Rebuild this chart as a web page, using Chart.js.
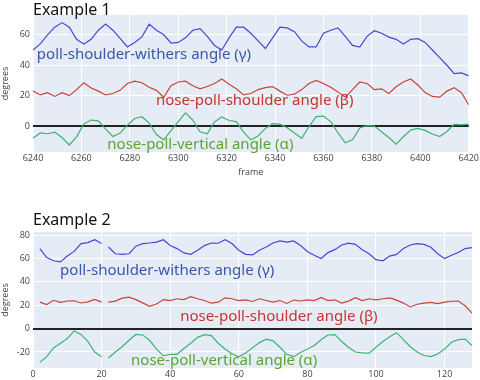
<!DOCTYPE html>
<html lang="en">
<head>
<meta charset="UTF-8">
<title>Angle examples</title>
<script src="https://cdn.jsdelivr.net/npm/chart.js"></script>
<style>
  body { margin: 0; background: #fff; font-family: "Noto Sans", sans-serif; }
  #wrap { position: relative; width: 480px; height: 380px; overflow: hidden; }
  .panel { position: absolute; left: 0; width: 480px; }
  .title { position: absolute; left: 33px; font-size: 16px; color: #111; line-height: 20px; }
</style>
</head>
<body>
<div id="wrap">
  <div class="panel" style="top:0;height:180px"><canvas id="chart1"></canvas></div>
  <div class="panel" style="top:190px;height:190px"><canvas id="chart2"></canvas></div>
  <div class="title" style="top:-1px">Example 1</div>
  <div class="title" style="top:209px">Example 2</div>
</div>
<script>
// ---- Example 1 data (frame, degrees) ----
const frames1 = [6240,6243,6246,6249,6252,6255,6258,6261,6264,6267,6270,6273,6276,6279,6282,6285,6288,6291,6294,6297,
  6300,6303,6306,6309,6312,6315,6318,6321,6324,6327,6330,6333,6336,6339,6342,6345,6348,6351,6354,6357,
  6360,6363,6366,6369,6372,6375,6378,6381,6384,6387,6390,6393,6396,6399,6402,6405,6408,6411,6414,6417,6420];
const gamma1 = [50,54,60,65,68,65,57,54,57,63,67,63,57.6,52,55,58.6,67,63,60,54.6,
  55,58,63,64,59,53,50,58,65,65,61,56,51,58,65,64.5,62,56,52,52,
  61,63,64.5,59,53,52,59,62.7,61,58.5,57,54,57,57.5,55,50,45,40,34.5,35,33];
const beta1 = [23,20.5,22,19.5,22,20,24,28.5,25,23,20.5,21.4,23.5,28,29.5,28.5,25.5,23.5,19,26.5,
  29,29.5,26.5,24.5,26,28,31,27.5,24.5,20.5,21.4,24,25.3,26,23,20.3,21,24,28,30,
  28,25.5,22.5,19,24,29,28,24,24.5,21.5,25.8,29,31,27,22,19.5,19,23,25.3,22,14];
const alpha1 = [-8,-4.5,-5,-4,-7.5,-12.4,-7,1.5,4,3.5,-2,-6.8,-4.6,0.6,5,6.2,2,-5.5,-9,-3,
  3,8.7,4,-3.7,-5,2.8,6,3.7,3,-4,-9,-6.5,-1.5,1.7,1.3,-1,-4.5,-8,-0.4,6.2,
  6.6,3,-4.5,-11,-9,-1.2,0.3,0,-3.7,-7.5,-11.8,-7,-2.6,-1.5,-2.8,-5.2,-6.8,-3.5,1.2,0.8,1.3];

// ---- Example 2 data (x, degrees); null at 21 = gap ----
const frames2 = [2,4,6,8,10,12,14,16,18,20,21,22,24,26,28,30,32,34,36,38,40,42,44,46,48,50,52,54,56,58,
  60,62,64,66,68,70,72,74,76,78,80,82,84,86,88,90,92,94,96,98,100,102,104,106,108,110,112,114,116,118,
  120,122,124,126,128];
const gamma2 = [68.4,60.7,58,57,62,66,72.7,73.5,76,72.7,null,69.8,64,63.5,64,70.5,72.7,73.2,74,76,71,68.4,64.7,63.5,67,71,73.2,73,76,72.7,
  67,63.5,63,67,69.8,73.2,75,74,75,71,66,62.7,60,65,67.5,71.5,73,72,67.5,64,59,58,62,63.5,68.5,71.5,72.7,72,69.5,64,
  59.8,62.7,65,68.4,69.2];
const beta2 = [22.6,20.6,24.2,22.4,23.6,23.8,21.9,22.8,25,22.6,null,22.6,23.5,26,26.9,24.8,22,19,21,24.8,24,25.5,24.8,27.3,25.5,24,21.7,22.6,26.3,25.5,
  24,24.6,23.2,25.5,24,22.6,24,21.5,24.4,23.6,24.6,24,26.7,24,24.6,21.8,23.5,26.5,24,25.5,24.6,25.5,26.2,24.3,21.8,18.5,20.8,21.8,22.4,21.3,
  22.6,23.4,23.5,19.5,13.2];
const alpha2 = [-28.9,-24,-16.5,-12.6,-8.5,-2,-5,-11,-20,-24,null,-25.2,-20,-15.5,-10,-5,-5.5,-10,-17.5,-23.2,-22,-22,-17,-12.5,-7.5,-5.2,-6,-12.5,-17.5,-21.5,
  -24.2,-20.8,-16.5,-12,-9,-10.5,-16,-22,-24,-20.5,-17.5,-14.5,-9.5,-5.5,-5.2,-11,-16,-20,-20.8,-21,-16,-11,-7,-3.5,-9.5,-15.5,-20,-23,-24,-21.7,
  -17.5,-11.7,-9.5,-9,-14.6];

const labelNames = ['poll-shoulder-withers angle (γ)', 'nose-poll-shoulder angle (β)', 'nose-poll-vertical angle (α)'];
const lineColors = ['#4747d4', '#c8433a', '#3cb46e'];
const textColors = ['#3a56a8', '#c8332b', '#5aa536'];
const labelWidths = [218, 201, 191];

const toPoints = (xs, ys) => xs.map((x, i) => ({ x: x, y: ys[i] }));

// plot background like plotly
const bgPlugin = {
  id: 'plotBg',
  beforeDraw(chart) {
    const { ctx, chartArea: a } = chart;
    ctx.save();
    ctx.fillStyle = '#e5ecf6';
    ctx.fillRect(a.left, a.top, a.right - a.left, a.bottom - a.top);
    ctx.restore();
  }
};

// series labels placed in data coordinates, squeezed to the reference width
const labelPlugin = {
  id: 'seriesLabels',
  afterDatasetsDraw(chart, args, opts) {
    const { ctx, scales: { x, y } } = chart;
    opts.items.forEach(it => {
      ctx.save();
      ctx.font = '15px "Noto Sans"';
      ctx.textBaseline = 'middle';
      ctx.fillStyle = it.color;
      const w = ctx.measureText(it.text).width;
      ctx.translate(x.getPixelForValue(it.x), y.getPixelForValue(it.y));
      ctx.scale(Math.min(1, it.w / w), 1);
      ctx.fillText(it.text, 0, 0);
      ctx.restore();
    });
  }
};

function makeChart(id, xs, series, xr, yr, labelPos, xTitle, padTop, xHeight) {
  const tickFont = { family: 'Open Sans', size: 9 };
  const every20 = s => {
    const t = [];
    for (let v = Math.ceil(s.min / 20) * 20; v <= s.max; v += 20) t.push({ value: v });
    s.ticks = t;
  };
  return new Chart(document.getElementById(id), {
    type: 'line',
    data: {
      datasets: series.map((ys, i) => ({
        data: toPoints(xs, ys),
        borderColor: lineColors[i],
        borderWidth: 1.2,
        pointRadius: 0,
        spanGaps: false,
        tension: 0
      }))
    },
    options: {
      responsive: true,
      maintainAspectRatio: false,
      animation: false,
      layout: { padding: { top: padTop, right: 8, left: 0, bottom: 0 } },
      plugins: {
        legend: { display: false },
        tooltip: { enabled: false },
        seriesLabels: {
          items: labelPos.map((p, i) => ({ text: labelNames[i], color: textColors[i], x: p[0], y: p[1], w: labelWidths[i] }))
        }
      },
      scales: {
        x: {
          type: 'linear', min: xr[0], max: xr[1],
          ticks: { color: '#444', font: tickFont, padding: 1, maxRotation: 0, callback: v => String(v) },
          afterBuildTicks: every20,
          afterFit: s => { s.height = xHeight; },
          grid: { color: '#fff', lineWidth: 1, drawTicks: false },
          border: { display: false },
          title: { display: !!xTitle, text: xTitle, color: '#444', font: { family: 'Open Sans', size: 9 }, padding: 2 }
        },
        y: {
          min: yr[0], max: yr[1],
          ticks: { color: '#444', font: tickFont, padding: 3, callback: v => String(v) },
          afterBuildTicks: every20,
          afterFit: s => { s.width = 33; },
          grid: {
            drawTicks: false,
            color: c => c.tick && c.tick.value === 0 ? '#222' : '#fff',
            lineWidth: c => c.tick && c.tick.value === 0 ? 2 : 1
          },
          border: { display: false },
          title: { display: true, text: 'degrees', color: '#444', font: { family: 'Open Sans', size: 9 }, padding: 0 }
        }
      }
    },
    plugins: [bgPlugin, labelPlugin]
  });
}

makeChart('chart1', frames1, [gamma1, beta1, alpha1], [6240, 6420], [-17, 73],
  [[6241.6, 46.6], [6290.8, 17], [6270.7, -12.5]], 'frame', 15, 28);
makeChart('chart2', frames2, [gamma2, beta2, alpha2], [0, 128], [-33.7, 82.6],
  [[7.9, 49.8], [42.9, 10.3], [28.6, -27.5]], '', 42, 12);
</script>
</body>
</html>
